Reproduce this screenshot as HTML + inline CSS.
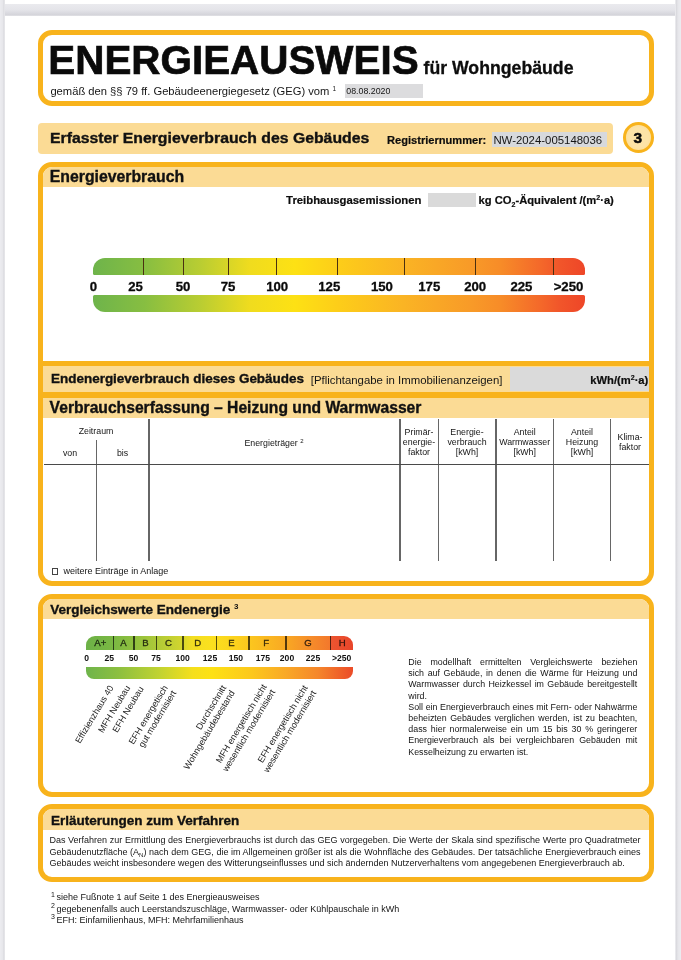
<!DOCTYPE html>
<html><head><meta charset="utf-8"><style>
html,body{margin:0;padding:0;width:681px;height:960px;overflow:hidden;background:#fff}
body{position:relative;font-family:"Liberation Sans", sans-serif}
div{font-family:"Liberation Sans", sans-serif}
</style></head><body>
<div style="position:absolute;left:0px;top:0px;width:681px;height:960px;background:#fff"></div>
<div style="position:absolute;left:0px;top:4px;width:681px;height:12px;background:linear-gradient(to bottom,#eaeaee 0%,#e4e4e9 50%,#d5d5db 88%,#e2e2e6 100%)"></div>
<div style="position:absolute;left:0px;top:0px;width:5px;height:960px;background:linear-gradient(to right,#ececf0 0%,#e7e7eb 50%,#d9d9de 82%,#f2f2f4 100%)"></div>
<div style="position:absolute;left:675px;top:0px;width:6px;height:960px;background:linear-gradient(to right,#f2f2f4 0%,#d9d9de 22%,#e6e6ea 50%,#ececf0 100%)"></div>
<div style="position:absolute;left:38.2px;top:30px;width:616.2px;height:76px;box-sizing:border-box;border:5px solid #f8b31c;border-radius:14px;background:#fff"></div>
<div style="position:absolute;left:48.3px;top:40.20px;font-size:40.4px;line-height:40.4px;font-weight:bold;color:#0a0a0a;white-space:nowrap;-webkit-text-stroke:0.7px #0a0a0a">ENERGIEAUSWEIS</div>
<div style="position:absolute;left:423.5px;top:60.02px;font-size:17.7px;line-height:17.7px;font-weight:bold;color:#0d0d0d;white-space:nowrap;-webkit-text-stroke:0.3px #0d0d0d">für Wohngebäude</div>
<div style="position:absolute;left:50.4px;top:85.92px;font-size:11.2px;line-height:11.2px;font-weight:normal;color:#151515;white-space:nowrap;">gemäß den §§ 79 ff. Gebäudeenergiegesetz (GEG) vom</div>
<div style="position:absolute;left:332.5px;top:86.00px;font-size:6.5px;line-height:6.5px;font-weight:normal;color:#151515;white-space:nowrap;">1</div>
<div style="position:absolute;left:345.4px;top:83.7px;width:77.6px;height:14px;background:#dcdcde"></div>
<div style="position:absolute;left:346.3px;top:87.05px;font-size:8.8px;line-height:8.8px;font-weight:normal;color:#151515;white-space:nowrap;">08.08.2020</div>
<div style="position:absolute;left:38px;top:123px;width:575px;height:30.5px;background:#fbdb95;border-radius:4px"></div>
<div style="position:absolute;left:50.2px;top:131.13px;font-size:14.61px;line-height:14.61px;font-weight:bold;color:#111;white-space:nowrap;transform-origin:0 0;transform:scaleX(1.08);-webkit-text-stroke:0.35px #111;">Erfasster Energieverbrauch des Gebäudes</div>
<div style="position:absolute;left:387.0px;top:134.90px;font-size:11.1px;line-height:11.1px;font-weight:bold;color:#0d0d0d;white-space:nowrap;-webkit-text-stroke:0.2px #0d0d0d">Registriernummer:</div>
<div style="position:absolute;left:492px;top:132.3px;width:115px;height:14.4px;background:#d7d9dc"></div>
<div style="position:absolute;left:493.4px;top:134.65px;font-size:11.4px;line-height:11.4px;font-weight:normal;color:#151515;white-space:nowrap;">NW-2024-005148036</div>
<div style="position:absolute;left:622.5px;top:122px;width:31.5px;height:31px;box-sizing:border-box;border:3.5px solid #f8b31c;border-radius:50%;background:radial-gradient(circle,#fde3a6 55%,#fbd98c 100%)"></div>
<div style="position:absolute;left:537.9px;width:200px;text-align:center;top:129.68px;font-size:15.5px;line-height:15.5px;font-weight:bold;color:#0a0a0a;white-space:nowrap;-webkit-text-stroke:0.5px #0a0a0a">3</div>
<div style="position:absolute;left:38.2px;top:161.5px;width:616.2px;height:424.5px;box-sizing:border-box;border:5px solid #f8b31c;border-radius:14px;background:#fff;overflow:hidden"></div>
<div style="position:absolute;left:43.2px;top:166.5px;width:606.2px;height:20.9px;background:#fbdb95;border-radius:9px 9px 0 0"></div>
<div style="position:absolute;left:49.8px;top:169.33px;font-size:15.80px;line-height:15.80px;font-weight:bold;color:#111;white-space:nowrap;transform-origin:0 0;transform:scaleX(1.0);-webkit-text-stroke:0.35px #111;">Energieverbrauch</div>
<div style="position:absolute;left:286.1px;top:194.81px;font-size:11.33px;line-height:11.33px;font-weight:bold;color:#0d0d0d;white-space:nowrap;-webkit-text-stroke:0.2px #0d0d0d">Treibhausgasemissionen</div>
<div style="position:absolute;left:428.1px;top:192.5px;width:48.3px;height:14.8px;background:#dadada"></div>
<div style="position:absolute;left:478.6px;top:194.92px;font-size:11.2px;line-height:11.2px;font-weight:bold;color:#0d0d0d;white-space:nowrap;-webkit-text-stroke:0.2px #0d0d0d">kg CO<span style="font-size:7px;position:relative;top:3px">2</span>-Äquivalent /(m<span style="font-size:7px;position:relative;top:-4px">2</span>·a)</div>
<div style="position:absolute;left:92.7px;top:258.4px;width:492.1px;height:17.1px;background:linear-gradient(to right,#6eb44b 0%,#87be41 10.5%,#b9cd32 21.8%,#f0dc1e 32%,#fde114 41%,#fdcd19 50%,#fab424 63%,#f89a28 77%,#f78c28 82.8%,#f4682a 91%,#f1552a 95%,#ee4628 100%);border-radius:12px 12px 1.5px 1.5px"></div>
<div style="position:absolute;left:92.7px;top:294.6px;width:492.1px;height:17.0px;background:linear-gradient(to right,#6eb44b 0%,#87be41 10.5%,#b9cd32 21.8%,#f0dc1e 32%,#fde114 41%,#fdcd19 50%,#fab424 63%,#f89a28 77%,#f78c28 82.8%,#f4682a 91%,#f1552a 95%,#ee4628 100%);border-radius:1.5px 1.5px 12px 12px"></div>
<div style="position:absolute;left:142.70000000000002px;top:258.4px;width:1.2px;height:17.1px;background:#4a3010"></div>
<div style="position:absolute;left:183.1px;top:258.4px;width:1.2px;height:17.1px;background:#4a3010"></div>
<div style="position:absolute;left:227.70000000000002px;top:258.4px;width:1.2px;height:17.1px;background:#4a3010"></div>
<div style="position:absolute;left:276.29999999999995px;top:258.4px;width:1.2px;height:17.1px;background:#4a3010"></div>
<div style="position:absolute;left:336.9px;top:258.4px;width:1.2px;height:17.1px;background:#4a3010"></div>
<div style="position:absolute;left:403.59999999999997px;top:258.4px;width:1.2px;height:17.1px;background:#4a3010"></div>
<div style="position:absolute;left:474.59999999999997px;top:258.4px;width:1.2px;height:17.1px;background:#4a3010"></div>
<div style="position:absolute;left:553.0px;top:258.4px;width:1.2px;height:17.1px;background:#4a3010"></div>
<div style="position:absolute;left:-6.5px;width:200px;text-align:center;top:279.53px;font-size:13.2px;line-height:13.2px;font-weight:bold;color:#0a0a0a;white-space:nowrap;-webkit-text-stroke:0.3px #0a0a0a">0</div>
<div style="position:absolute;left:35.5px;width:200px;text-align:center;top:279.53px;font-size:13.2px;line-height:13.2px;font-weight:bold;color:#0a0a0a;white-space:nowrap;-webkit-text-stroke:0.3px #0a0a0a">25</div>
<div style="position:absolute;left:83px;width:200px;text-align:center;top:279.53px;font-size:13.2px;line-height:13.2px;font-weight:bold;color:#0a0a0a;white-space:nowrap;-webkit-text-stroke:0.3px #0a0a0a">50</div>
<div style="position:absolute;left:128px;width:200px;text-align:center;top:279.53px;font-size:13.2px;line-height:13.2px;font-weight:bold;color:#0a0a0a;white-space:nowrap;-webkit-text-stroke:0.3px #0a0a0a">75</div>
<div style="position:absolute;left:177.2px;width:200px;text-align:center;top:279.53px;font-size:13.2px;line-height:13.2px;font-weight:bold;color:#0a0a0a;white-space:nowrap;-webkit-text-stroke:0.3px #0a0a0a">100</div>
<div style="position:absolute;left:229.3px;width:200px;text-align:center;top:279.53px;font-size:13.2px;line-height:13.2px;font-weight:bold;color:#0a0a0a;white-space:nowrap;-webkit-text-stroke:0.3px #0a0a0a">125</div>
<div style="position:absolute;left:281.9px;width:200px;text-align:center;top:279.53px;font-size:13.2px;line-height:13.2px;font-weight:bold;color:#0a0a0a;white-space:nowrap;-webkit-text-stroke:0.3px #0a0a0a">150</div>
<div style="position:absolute;left:329.3px;width:200px;text-align:center;top:279.53px;font-size:13.2px;line-height:13.2px;font-weight:bold;color:#0a0a0a;white-space:nowrap;-webkit-text-stroke:0.3px #0a0a0a">175</div>
<div style="position:absolute;left:375.2px;width:200px;text-align:center;top:279.53px;font-size:13.2px;line-height:13.2px;font-weight:bold;color:#0a0a0a;white-space:nowrap;-webkit-text-stroke:0.3px #0a0a0a">200</div>
<div style="position:absolute;left:421.4px;width:200px;text-align:center;top:279.53px;font-size:13.2px;line-height:13.2px;font-weight:bold;color:#0a0a0a;white-space:nowrap;-webkit-text-stroke:0.3px #0a0a0a">225</div>
<div style="position:absolute;left:468.5px;width:200px;text-align:center;top:279.53px;font-size:13.2px;line-height:13.2px;font-weight:bold;color:#0a0a0a;white-space:nowrap;-webkit-text-stroke:0.3px #0a0a0a">&gt;250</div>
<div style="position:absolute;left:43.2px;top:361px;width:606.2px;height:5px;background:#f8b31c"></div>
<div style="position:absolute;left:43.2px;top:366px;width:606.2px;height:26.2px;background:#fbdb95"></div>
<div style="position:absolute;left:510.2px;top:367.4px;width:139.2px;height:23.6px;background:#dadada"></div>
<div style="position:absolute;left:51px;top:372.94px;font-size:12.83px;line-height:12.83px;font-weight:bold;color:#111;white-space:nowrap;transform-origin:0 0;transform:scaleX(1.05);-webkit-text-stroke:0.35px #111;">Endenergieverbrauch dieses Gebäudes</div>
<div style="position:absolute;left:310.8px;top:374.67px;font-size:11.38px;line-height:11.38px;font-weight:normal;color:#151515;white-space:nowrap;">[Pflichtangabe in Immobilienanzeigen]</div>
<div style="position:absolute;right:32.700000000000045px;text-align:right;top:374.62px;font-size:11.2px;line-height:11.2px;font-weight:bold;color:#0d0d0d;white-space:nowrap;-webkit-text-stroke:0.2px #0d0d0d">kWh/(m<span style="font-size:7px;position:relative;top:-4px">2</span>·a)</div>
<div style="position:absolute;left:43.2px;top:392.1px;width:606.2px;height:5.5px;background:#f8b31c"></div>
<div style="position:absolute;left:43.2px;top:397.6px;width:606.2px;height:20.6px;background:#fbdb95"></div>
<div style="position:absolute;left:49.6px;top:400.24px;font-size:15.67px;line-height:15.67px;font-weight:bold;color:#111;white-space:nowrap;transform-origin:0 0;transform:scaleX(1.0);-webkit-text-stroke:0.35px #111;">Verbrauchserfassung – Heizung und Warmwasser</div>
<div style="position:absolute;left:148.35px;top:418.5px;width:1.3px;height:142.5px;background:#666"></div>
<div style="position:absolute;left:399.25px;top:418.5px;width:1.3px;height:142.5px;background:#666"></div>
<div style="position:absolute;left:437.75px;top:418.5px;width:1.3px;height:142.5px;background:#666"></div>
<div style="position:absolute;left:495.35px;top:418.5px;width:1.3px;height:142.5px;background:#666"></div>
<div style="position:absolute;left:552.95px;top:418.5px;width:1.3px;height:142.5px;background:#666"></div>
<div style="position:absolute;left:609.95px;top:418.5px;width:1.3px;height:142.5px;background:#666"></div>
<div style="position:absolute;left:95.75px;top:440px;width:1.3px;height:121px;background:#666"></div>
<div style="position:absolute;left:44px;top:463.85px;width:604.5px;height:1.3px;background:#4a4a4a"></div>
<div style="position:absolute;left:-4px;width:200px;text-align:center;top:426.55px;font-size:8.8px;line-height:8.8px;font-weight:normal;color:#151515;white-space:nowrap;">Zeitraum</div>
<div style="position:absolute;left:-30px;width:200px;text-align:center;top:448.55px;font-size:8.8px;line-height:8.8px;font-weight:normal;color:#151515;white-space:nowrap;">von</div>
<div style="position:absolute;left:22.5px;width:200px;text-align:center;top:448.55px;font-size:8.8px;line-height:8.8px;font-weight:normal;color:#151515;white-space:nowrap;">bis</div>
<div style="position:absolute;left:174px;width:200px;text-align:center;top:438.55px;font-size:8.8px;line-height:8.8px;font-weight:normal;color:#151515;white-space:nowrap;">Energieträger <span style="font-size:6px;position:relative;top:-3px">2</span></div>
<div style="position:absolute;left:319px;width:200px;text-align:center;top:428.15px;font-size:8.8px;line-height:8.8px;font-weight:normal;color:#151515;white-space:nowrap;">Primär-</div>
<div style="position:absolute;left:319px;width:200px;text-align:center;top:437.85px;font-size:8.8px;line-height:8.8px;font-weight:normal;color:#151515;white-space:nowrap;">energie-</div>
<div style="position:absolute;left:319px;width:200px;text-align:center;top:447.55px;font-size:8.8px;line-height:8.8px;font-weight:normal;color:#151515;white-space:nowrap;">faktor</div>
<div style="position:absolute;left:367px;width:200px;text-align:center;top:428.15px;font-size:8.8px;line-height:8.8px;font-weight:normal;color:#151515;white-space:nowrap;">Energie-</div>
<div style="position:absolute;left:367px;width:200px;text-align:center;top:437.85px;font-size:8.8px;line-height:8.8px;font-weight:normal;color:#151515;white-space:nowrap;">verbrauch</div>
<div style="position:absolute;left:367px;width:200px;text-align:center;top:447.55px;font-size:8.8px;line-height:8.8px;font-weight:normal;color:#151515;white-space:nowrap;">[kWh]</div>
<div style="position:absolute;left:424.70000000000005px;width:200px;text-align:center;top:428.15px;font-size:8.8px;line-height:8.8px;font-weight:normal;color:#151515;white-space:nowrap;">Anteil</div>
<div style="position:absolute;left:424.70000000000005px;width:200px;text-align:center;top:437.85px;font-size:8.8px;line-height:8.8px;font-weight:normal;color:#151515;white-space:nowrap;">Warmwasser</div>
<div style="position:absolute;left:424.70000000000005px;width:200px;text-align:center;top:447.55px;font-size:8.8px;line-height:8.8px;font-weight:normal;color:#151515;white-space:nowrap;">[kWh]</div>
<div style="position:absolute;left:482px;width:200px;text-align:center;top:428.15px;font-size:8.8px;line-height:8.8px;font-weight:normal;color:#151515;white-space:nowrap;">Anteil</div>
<div style="position:absolute;left:482px;width:200px;text-align:center;top:437.85px;font-size:8.8px;line-height:8.8px;font-weight:normal;color:#151515;white-space:nowrap;">Heizung</div>
<div style="position:absolute;left:482px;width:200px;text-align:center;top:447.55px;font-size:8.8px;line-height:8.8px;font-weight:normal;color:#151515;white-space:nowrap;">[kWh]</div>
<div style="position:absolute;left:530px;width:200px;text-align:center;top:433.05px;font-size:8.8px;line-height:8.8px;font-weight:normal;color:#151515;white-space:nowrap;">Klima-</div>
<div style="position:absolute;left:530px;width:200px;text-align:center;top:442.75px;font-size:8.8px;line-height:8.8px;font-weight:normal;color:#151515;white-space:nowrap;">faktor</div>
<div style="position:absolute;left:51.8px;top:568.3px;width:6.6px;height:6.6px;box-sizing:border-box;border:1px solid #444"></div>
<div style="position:absolute;left:63.6px;top:566.98px;font-size:9px;line-height:9px;font-weight:normal;color:#151515;white-space:nowrap;">weitere Einträge in Anlage</div>
<div style="position:absolute;left:38.2px;top:593.5px;width:616.2px;height:203px;box-sizing:border-box;border:5px solid #f8b31c;border-radius:14px;background:#fff;overflow:hidden"></div>
<div style="position:absolute;left:43.2px;top:598.5px;width:606.2px;height:20.6px;background:#fbdb95;border-radius:9px 9px 0 0"></div>
<div style="position:absolute;left:50.2px;top:602.97px;font-size:13.50px;line-height:13.50px;font-weight:bold;color:#111;white-space:nowrap;transform-origin:0 0;transform:scaleX(1.0);-webkit-text-stroke:0.35px #111;">Vergleichswerte Endenergie <span style="font-size:8px;position:relative;top:-5px;-webkit-text-stroke:0">3</span></div>
<div style="position:absolute;left:86.2px;top:635.5px;width:267px;height:14px;border-radius:9px 9px 0 0/9px 9px 0 0;overflow:hidden">
<div style="position:absolute;left:0;top:0;width:267px;height:14px;background:linear-gradient(to right,#6cb147 0%,#7ab843 10%,#8fc03e 18%,#adc938 26%,#cfd42f 35%,#f3de22 40%,#fbe01e 47%,#fcd21d 56%,#fbc31f 63%,#f9a823 75%,#f6902a 83%,#f3782c 91.3%,#ec5530 91.7%,#e8452a 100%)"></div>
<div style="position:absolute;left:26.70px;top:0;width:1.2px;height:14px;background:#555;mix-blend-mode:multiply"></div>
<div style="position:absolute;left:47.20px;top:0;width:1.2px;height:14px;background:#555;mix-blend-mode:multiply"></div>
<div style="position:absolute;left:69.90px;top:0;width:1.2px;height:14px;background:#555;mix-blend-mode:multiply"></div>
<div style="position:absolute;left:96.20px;top:0;width:1.2px;height:14px;background:#555;mix-blend-mode:multiply"></div>
<div style="position:absolute;left:130.00px;top:0;width:1.2px;height:14px;background:#555;mix-blend-mode:multiply"></div>
<div style="position:absolute;left:162.20px;top:0;width:1.2px;height:14px;background:#555;mix-blend-mode:multiply"></div>
<div style="position:absolute;left:199.20px;top:0;width:1.2px;height:14px;background:#555;mix-blend-mode:multiply"></div>
<div style="position:absolute;left:243.90px;top:0;width:1.2px;height:14px;background:#555;mix-blend-mode:multiply"></div>
</div>
<div style="position:absolute;left:0.29999999999999716px;width:200px;text-align:center;top:638.07px;font-size:9.6px;line-height:9.6px;font-weight:normal;color:#3a3a3a;white-space:nowrap;mix-blend-mode:multiply;-webkit-text-stroke:0.3px #3a3a3a">A+</div>
<div style="position:absolute;left:23.400000000000006px;width:200px;text-align:center;top:638.07px;font-size:9.6px;line-height:9.6px;font-weight:normal;color:#3a3a3a;white-space:nowrap;mix-blend-mode:multiply;-webkit-text-stroke:0.3px #3a3a3a">A</div>
<div style="position:absolute;left:45.400000000000006px;width:200px;text-align:center;top:638.07px;font-size:9.6px;line-height:9.6px;font-weight:normal;color:#3a3a3a;white-space:nowrap;mix-blend-mode:multiply;-webkit-text-stroke:0.3px #3a3a3a">B</div>
<div style="position:absolute;left:68.5px;width:200px;text-align:center;top:638.07px;font-size:9.6px;line-height:9.6px;font-weight:normal;color:#3a3a3a;white-space:nowrap;mix-blend-mode:multiply;-webkit-text-stroke:0.3px #3a3a3a">C</div>
<div style="position:absolute;left:97.80000000000001px;width:200px;text-align:center;top:638.07px;font-size:9.6px;line-height:9.6px;font-weight:normal;color:#3a3a3a;white-space:nowrap;mix-blend-mode:multiply;-webkit-text-stroke:0.3px #3a3a3a">D</div>
<div style="position:absolute;left:131.4px;width:200px;text-align:center;top:638.07px;font-size:9.6px;line-height:9.6px;font-weight:normal;color:#3a3a3a;white-space:nowrap;mix-blend-mode:multiply;-webkit-text-stroke:0.3px #3a3a3a">E</div>
<div style="position:absolute;left:166.2px;width:200px;text-align:center;top:638.07px;font-size:9.6px;line-height:9.6px;font-weight:normal;color:#3a3a3a;white-space:nowrap;mix-blend-mode:multiply;-webkit-text-stroke:0.3px #3a3a3a">F</div>
<div style="position:absolute;left:208px;width:200px;text-align:center;top:638.07px;font-size:9.6px;line-height:9.6px;font-weight:normal;color:#3a3a3a;white-space:nowrap;mix-blend-mode:multiply;-webkit-text-stroke:0.3px #3a3a3a">G</div>
<div style="position:absolute;left:242.2px;width:200px;text-align:center;top:638.07px;font-size:9.6px;line-height:9.6px;font-weight:normal;color:#3a3a3a;white-space:nowrap;mix-blend-mode:multiply;-webkit-text-stroke:0.3px #3a3a3a">H</div>
<div style="position:absolute;left:-13.400000000000006px;width:200px;text-align:center;top:654.02px;font-size:8.6px;line-height:8.6px;font-weight:bold;color:#111;white-space:nowrap;">0</div>
<div style="position:absolute;left:9.200000000000003px;width:200px;text-align:center;top:654.02px;font-size:8.6px;line-height:8.6px;font-weight:bold;color:#111;white-space:nowrap;">25</div>
<div style="position:absolute;left:33.5px;width:200px;text-align:center;top:654.02px;font-size:8.6px;line-height:8.6px;font-weight:bold;color:#111;white-space:nowrap;">50</div>
<div style="position:absolute;left:56px;width:200px;text-align:center;top:654.02px;font-size:8.6px;line-height:8.6px;font-weight:bold;color:#111;white-space:nowrap;">75</div>
<div style="position:absolute;left:82.6px;width:200px;text-align:center;top:654.02px;font-size:8.6px;line-height:8.6px;font-weight:bold;color:#111;white-space:nowrap;">100</div>
<div style="position:absolute;left:110px;width:200px;text-align:center;top:654.02px;font-size:8.6px;line-height:8.6px;font-weight:bold;color:#111;white-space:nowrap;">125</div>
<div style="position:absolute;left:135.8px;width:200px;text-align:center;top:654.02px;font-size:8.6px;line-height:8.6px;font-weight:bold;color:#111;white-space:nowrap;">150</div>
<div style="position:absolute;left:162.89999999999998px;width:200px;text-align:center;top:654.02px;font-size:8.6px;line-height:8.6px;font-weight:bold;color:#111;white-space:nowrap;">175</div>
<div style="position:absolute;left:187px;width:200px;text-align:center;top:654.02px;font-size:8.6px;line-height:8.6px;font-weight:bold;color:#111;white-space:nowrap;">200</div>
<div style="position:absolute;left:213px;width:200px;text-align:center;top:654.02px;font-size:8.6px;line-height:8.6px;font-weight:bold;color:#111;white-space:nowrap;">225</div>
<div style="position:absolute;left:241.7px;width:200px;text-align:center;top:654.02px;font-size:8.6px;line-height:8.6px;font-weight:bold;color:#111;white-space:nowrap;">&gt;250</div>
<div style="position:absolute;left:86.2px;top:666.6px;width:267px;height:12.6px;background:linear-gradient(to right,#6eb44b 0%,#8cbf40 12%,#bfd232 27%,#f5df1c 40%,#fde114 47%,#fcc81c 62%,#f9a826 75%,#f5862b 87%,#eb4b28 100%);border-radius:0 0 8px 8px/0 0 8px 8px"></div>
<div style="position:absolute;right:573.2px;top:683.7px;font-size:9.0px;line-height:9.8px;text-align:right;color:#1e1e1e;white-space:nowrap;transform-origin:100% 0;transform:rotate(-59deg)">Effizienzhaus 40</div>
<div style="position:absolute;right:556.7px;top:683.7px;font-size:9.0px;line-height:9.8px;text-align:right;color:#1e1e1e;white-space:nowrap;transform-origin:100% 0;transform:rotate(-59deg)">MFH Neubau</div>
<div style="position:absolute;right:542.7px;top:684.7px;font-size:9.0px;line-height:9.8px;text-align:right;color:#1e1e1e;white-space:nowrap;transform-origin:100% 0;transform:rotate(-59deg)">EFH Neubau</div>
<div style="position:absolute;right:519.2px;top:683.7px;font-size:9.0px;line-height:9.8px;text-align:right;color:#1e1e1e;white-space:nowrap;transform-origin:100% 0;transform:rotate(-59deg)">EFH energetisch<br>gut modernisiert</div>
<div style="position:absolute;right:460.2px;top:684.2px;font-size:9.0px;line-height:9.8px;text-align:right;color:#1e1e1e;white-space:nowrap;transform-origin:100% 0;transform:rotate(-59deg)">Durchschnitt<br>Wohngebäudebestand</div>
<div style="position:absolute;right:419.7px;top:683.2px;font-size:9.0px;line-height:9.8px;text-align:right;color:#1e1e1e;white-space:nowrap;transform-origin:100% 0;transform:rotate(-59deg)">MFH energetisch nicht<br>wesentlich modernisiert</div>
<div style="position:absolute;right:378.7px;top:684.2px;font-size:9.0px;line-height:9.8px;text-align:right;color:#1e1e1e;white-space:nowrap;transform-origin:100% 0;transform:rotate(-59deg)">EFH energetisch nicht<br>wesentlich modernisiert</div>
<div style="position:absolute;left:408.3px;width:229px;top:658.11px;font-size:8.85px;line-height:8.85px;color:#151515;white-space:nowrap;text-align:justify;text-align-last:justify;">Die modellhaft ermittelten Vergleichswerte beziehen</div>
<div style="position:absolute;left:408.3px;width:229px;top:669.30px;font-size:8.85px;line-height:8.85px;color:#151515;white-space:nowrap;text-align:justify;text-align-last:justify;">sich auf Gebäude, in denen die Wärme für Heizung und</div>
<div style="position:absolute;left:408.3px;width:229px;top:680.49px;font-size:8.85px;line-height:8.85px;color:#151515;white-space:nowrap;text-align:justify;text-align-last:justify;">Warmwasser durch Heizkessel im Gebäude bereitgestellt</div>
<div style="position:absolute;left:408.3px;width:229px;top:691.68px;font-size:8.85px;line-height:8.85px;color:#151515;white-space:nowrap;">wird.</div>
<div style="position:absolute;left:408.3px;width:229px;top:702.87px;font-size:8.85px;line-height:8.85px;color:#151515;white-space:nowrap;text-align:justify;text-align-last:justify;">Soll ein Energieverbrauch eines mit Fern- oder Nahwärme</div>
<div style="position:absolute;left:408.3px;width:229px;top:714.06px;font-size:8.85px;line-height:8.85px;color:#151515;white-space:nowrap;text-align:justify;text-align-last:justify;">beheizten Gebäudes verglichen werden, ist zu beachten,</div>
<div style="position:absolute;left:408.3px;width:229px;top:725.25px;font-size:8.85px;line-height:8.85px;color:#151515;white-space:nowrap;text-align:justify;text-align-last:justify;">dass hier normalerweise ein um 15 bis 30 % geringerer</div>
<div style="position:absolute;left:408.3px;width:229px;top:736.44px;font-size:8.85px;line-height:8.85px;color:#151515;white-space:nowrap;text-align:justify;text-align-last:justify;">Energieverbrauch als bei vergleichbaren Gebäuden mit</div>
<div style="position:absolute;left:408.3px;width:229px;top:747.63px;font-size:8.85px;line-height:8.85px;color:#151515;white-space:nowrap;">Kesselheizung zu erwarten ist.</div>
<div style="position:absolute;left:38.2px;top:803.5px;width:616.2px;height:78.5px;box-sizing:border-box;border:5px solid #f8b31c;border-radius:14px;background:#fff;overflow:hidden"></div>
<div style="position:absolute;left:43.2px;top:808.5px;width:606.2px;height:21.3px;background:#fbdb95;border-radius:9px 9px 0 0"></div>
<div style="position:absolute;left:50.9px;top:814.27px;font-size:13.50px;line-height:13.50px;font-weight:bold;color:#111;white-space:nowrap;transform-origin:0 0;transform:scaleX(1.0);-webkit-text-stroke:0.35px #111;">Erläuterungen zum Verfahren</div>
<div style="position:absolute;left:49.4px;width:591px;top:836.38px;font-size:9px;line-height:9px;color:#151515;white-space:nowrap;text-align:justify;text-align-last:justify;">Das Verfahren zur Ermittlung des Energieverbrauchs ist durch das GEG vorgegeben. Die Werte der Skala sind spezifische Werte pro Quadratmeter</div>
<div style="position:absolute;left:49.4px;width:591px;top:847.83px;font-size:9px;line-height:9px;color:#151515;white-space:nowrap;text-align:justify;text-align-last:justify;">Gebäudenutzfläche (A<span style="font-size:6px;position:relative;top:2px">N</span>) nach dem GEG, die im Allgemeinen größer ist als die Wohnfläche des Gebäudes. Der tatsächliche Energieverbrauch eines</div>
<div style="position:absolute;left:49.4px;width:591px;top:859.28px;font-size:9px;line-height:9px;color:#151515;white-space:nowrap;">Gebäudes weicht insbesondere wegen des Witterungseinflusses und sich ändernden Nutzerverhaltens vom angegebenen Energieverbrauch ab.</div>
<div style="position:absolute;left:51.0px;top:890.87px;font-size:7px;line-height:7px;font-weight:normal;color:#151515;white-space:nowrap;">1</div>
<div style="position:absolute;left:56.4px;top:893.38px;font-size:9px;line-height:9px;font-weight:normal;color:#151515;white-space:nowrap;">siehe Fußnote 1 auf Seite 1 des Energieausweises</div>
<div style="position:absolute;left:51.0px;top:902.07px;font-size:7px;line-height:7px;font-weight:normal;color:#151515;white-space:nowrap;">2</div>
<div style="position:absolute;left:56.4px;top:904.58px;font-size:9px;line-height:9px;font-weight:normal;color:#151515;white-space:nowrap;">gegebenenfalls auch Leerstandszuschläge, Warmwasser- oder Kühlpauschale in kWh</div>
<div style="position:absolute;left:51.0px;top:913.27px;font-size:7px;line-height:7px;font-weight:normal;color:#151515;white-space:nowrap;">3</div>
<div style="position:absolute;left:56.4px;top:915.78px;font-size:9px;line-height:9px;font-weight:normal;color:#151515;white-space:nowrap;">EFH: Einfamilienhaus, MFH: Mehrfamilienhaus</div>
</body></html>
